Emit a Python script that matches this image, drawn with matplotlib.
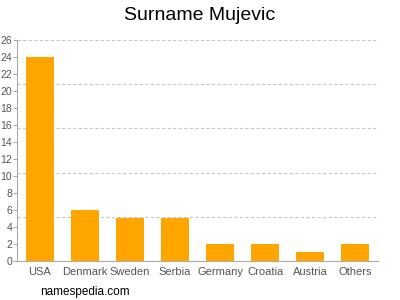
import matplotlib.pyplot as plt
import numpy as np

plt.rcParams["font.family"] = ["Liberation Sans", "DejaVu Sans"]

countries = ["USA", "Denmark", "Sweden", "Serbia", "Germany", "Croatia", "Austria", "Others"]
counts = [24, 6, 5, 5, 2, 2, 1, 2]
y_ticks = list(range(0, 27, 2))
grid_levels = [5.2, 10.4, 15.6, 20.8, 26]

fig = plt.figure(figsize=(4, 3), dpi=100)
ax = fig.add_axes([0.0425, 0.13, 0.9025, 0.737])

x = np.arange(len(countries))
ax.bar(x, counts, width=0.62, color="#ffa500", zorder=3)

for g in grid_levels:
    ax.axhline(g, color="#c8c8c8", linestyle=(0, (3, 2)), linewidth=0.8, zorder=1)

ax.set_xlim(-0.5, len(countries) - 0.5)
ax.set_ylim(0, 26)
ax.set_yticks(y_ticks)
ax.set_xticks(x)
ax.set_xticklabels(countries)
ax.tick_params(axis="y", labelsize=7.5, labelcolor="#555555", color="#aaaaaa", length=3, width=0.8, pad=0.5)
ax.tick_params(axis="x", labelsize=8, labelcolor="#555555", length=0, pad=4)

for side in ["top", "right"]:
    ax.spines[side].set_visible(False)
ax.spines["left"].set_color("#aaaaaa")
ax.spines["bottom"].set_color("#aaaaaa")
ax.spines["left"].set_linewidth(0.8)
ax.spines["bottom"].set_linewidth(0.8)

fig.text(0.5, 0.95, "Surname Mujevic", ha="center", va="center", fontsize=14)
fig.text(0.1, 0.028, "namespedia.com", ha="left", va="center", fontsize=8.5)

fig.savefig("out.png", dpi=100)
